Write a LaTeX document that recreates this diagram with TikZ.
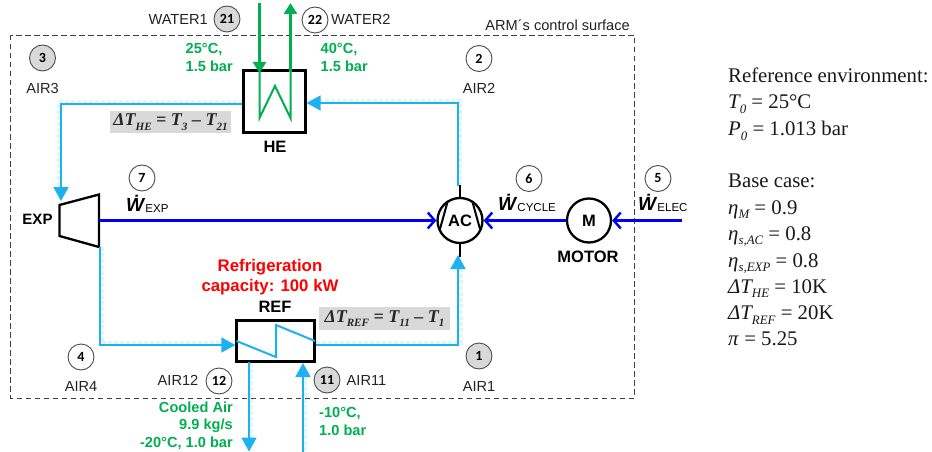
\documentclass[tikz,border=0pt]{standalone}
\usepackage{fontspec}
\setmainfont{Liberation Sans}
\newfontfamily\tms{Liberation Serif}
\newfontfamily\crl{Carlito}
\usetikzlibrary{arrows.meta}
\definecolor{airc}{HTML}{1DB1F0}
\definecolor{halo}{HTML}{E0F4FD}
\definecolor{grn}{HTML}{00B050}
\definecolor{wblue}{HTML}{0000F0}
\definecolor{gbox}{HTML}{D9D9D9}
\definecolor{txt}{HTML}{222222}
\newcommand{\fs}[1]{\fontsize{#1}{#1}\selectfont}
\newcommand{\lowsub}[1]{\raisebox{-0.24em}{\fontsize{0.62em}{0.62em}\selectfont #1}}
\newcommand{\wdot}[1]{\textbf{\textit{\fs{19}\.W}}\raisebox{-0.12em}{\fs{11.5}#1}}
\tikzset{
 x=1pt,y=-1pt,
 num/.style={circle,draw=black!70,line width=0.9pt,minimum size=26pt,inner sep=0pt,font=\crl\bfseries\fs{14},text=black,fill=white},
 numg/.style={num,fill=gbox},
 lab/.style={inner sep=0pt,font=\fs{14.6},text=txt},
 unit/.style={draw=black,line width=2.3pt,fill=white,inner sep=0pt},
 compname/.style={inner sep=0pt,font=\bfseries\fs{16.5},text=black},
 gtext/.style={inner sep=0pt,font=\bfseries\fontsize{14.6}{17.7}\selectfont,text=grn},
 eqbox/.style={fill=gbox,inner sep=0pt,font=\tms\bfseries\itshape\fs{18},text=black!85},
 air/.style={draw=airc,line width=1.8pt},
 airhalo/.style={draw=halo,line width=4pt,dotted,line cap=butt},
 airtip/.style={-{Triangle[length=14pt,width=15pt]}},
 water/.style={draw=grn,line width=2.5pt},
 watertip/.style={-{Triangle[length=11pt,width=13pt]}},
 work/.style={draw=wblue,line width=3pt,-{Straight Barb[length=7pt,width=16pt,line width=2.4pt]}},
 side/.style={inner sep=0pt,anchor=base west,font=\tms\fs{20.8},text=black!90},
}
\begin{document}
\begin{tikzpicture}
\useasboundingbox (0,0) rectangle (932,452);
% control surface
\coordinate (cs1) at (10.5,35); \coordinate (cs2) at (634,398);
\draw[black!75,line width=0.9pt,dash pattern=on 5.5pt off 3.5pt] (cs1) rectangle (cs2);
\node[lab,anchor=east] (arm) at (630,25.5) {ARM´s control surface};
% named free points
\coordinate (b2) at (458,103);
\coordinate (b3) at (61,104);
\coordinate (b4) at (100,345);
\coordinate (b1) at (458,345);
\coordinate (w1s) at (259.5,3);
\coordinate (w2e) at (290.5,3);
\coordinate (a12e) at (249,451.5);
\coordinate (a11s) at (303,452);
\coordinate (e5s) at (682,220.5);
% halos
\draw[airhalo] (460,186) -- (460,101) -- (308,101);
\draw[airhalo] (243,102) -- (59,102) -- (59,192);
\draw[airhalo] (102,247) -- (102,343) -- (226,343);
\draw[airhalo] (316,343) -- (461,343) -- (461,268);
\draw[airhalo] (251,363) -- (251,440);
\draw[airhalo] (305,375) -- (305,452);
% components
\node[unit,minimum width=62pt,minimum height=62pt] (HE) at (274.5,101.5) {};
\node[unit,minimum width=78pt,minimum height=41pt] (REF) at (275.5,341) {};
\node[unit,circle,minimum size=45pt] (AC) at (460,220.5) {};
\node[unit,circle,minimum size=44pt] (M) at (589,220.5) {};
\draw[black,line width=2.3pt] (59.5,205) coordinate (e1) -- (99,194.5) coordinate (e2) -- (99,247) coordinate (e3) -- (59.5,236) coordinate (e4) -- cycle;
\coordinate (EXPtop) at (61,201);
\coordinate (EXPout) at (99,220.5);
\coordinate (EXPbot) at (100,247);
% AC details
\draw[black,line width=2pt] (440,229) -- (447.5,202);
\draw[black,line width=2pt] (472.5,202) -- (480,229);
\draw[black,line width=2.3pt] (AC.north) -- ++(0,-12) coordinate (ACn);
\draw[black,line width=2.3pt] (AC.south) -- ++(0,13) coordinate (ACs);
\node[inner sep=0pt,font=\bfseries\fs{16.5}] (ACt) at (460,220.5) {AC};
\node[inner sep=0pt,font=\bfseries\fs{16.5}] (Mt) at (M) {M};
% air lines
\draw[air,airtip] (458,186) -- (b2) -- (HE.east |- b2);
\draw[air,airtip] (HE.west |- b3) -- (b3) -- (EXPtop);
\draw[air,airtip] (EXPbot) -- (b4) -- (REF.west |- b4);
\draw[air,airtip] (REF.east |- b1) -- (b1) -- (458,255);
\draw[air,airtip] (249,362) -- (a12e);
\draw[air,airtip] (a11s) -- (303,363);
% zigzag REF
\draw[air,line width=2pt] (236.5,341) -- (276,357) -- (276,325) -- (315,341);
% water
\draw[water,watertip] (w1s) -- (259.5,73);
\draw[water,line width=2pt,line join=miter] (259.5,70) -- (259.5,118) -- (275,86) -- (290.5,118) -- (290.5,70);
\draw[water,watertip] (290.5,72) -- (w2e);
% work
\draw[work] (EXPout) -- (AC.west);
\draw[work] (M.west) -- (AC.east);
\draw[work] (e5s) -- (M.east);
% equation boxes
\node[eqbox,minimum width=121pt,minimum height=22.5pt] (eqHE) at (170.5,122) {ΔT\lowsub{HE} = T\lowsub{3} – T\lowsub{21}};
\node[eqbox,minimum width=131pt,minimum height=23pt] (eqREF) at (384.5,318.5) {ΔT\lowsub{REF} = T\lowsub{11} – T\lowsub{1}};
% numbered circles
\node[numg] (n21) at (227,19) {21};
\node[num] (n22) at (315,20) {22};
\node[numg] (n3) at (42.5,58) {3};
\node[num] (n2) at (479,58.5) {2};
\node[num] (n7) at (142,178) {7};
\node[num] (n6) at (529,178.5) {6};
\node[num] (n5) at (658,178.5) {5};
\node[num] (n4) at (81,357) {4};
\node[num] (n12) at (219,381) {12};
\node[numg] (n1) at (479,356) {1};
\node[numg] (n11) at (327,380) {11};
% labels
\node[lab,anchor=east] (lw1) at (208,19) {WATER1};
\node[lab,anchor=west] (lw2) at (331,19) {WATER2};
\node[lab] (l3) at (42.5,88) {AIR3};
\node[lab] (l2) at (479,88) {AIR2};
\node[lab] (l4) at (81,386) {AIR4};
\node[lab] (l1) at (479,386) {AIR1};
\node[lab,anchor=east] (l12) at (198.5,380) {AIR12};
\node[lab,anchor=west] (l11) at (346.5,380) {AIR11};
% names
\node[compname] (tHE) at (275,147) {HE};
\node[compname] (tREF) at (275,307) {REF};
\node[compname,font=\bfseries\fs{15}] (tEXP) at (37.5,219) {EXP};
\node[compname] (tM) at (588,257) {MOTOR};
% work labels
\node[inner sep=0pt,anchor=base west] (wexp) at (126,211) {\wdot{EXP}};
\node[inner sep=0pt,anchor=base west] (wcyc) at (498,210) {\wdot{CYCLE}};
\node[inner sep=0pt,anchor=base west] (wele) at (638,210) {\wdot{ELEC}};
% coloured notes
\node[gtext,align=left,anchor=north west] (g25) at (185.5,43.5) {25°C,\\1.5 bar};
\node[gtext,align=left,anchor=north west] (g40) at (320.5,43.5) {40°C,\\1.5 bar};
\node[gtext,align=right,anchor=north east] (gcool) at (233,401.5) {Cooled Air\\9.9 kg/s\\-20°C, 1.0 bar};
\node[gtext,align=left,anchor=north west] (g10) at (319,407) {-10°C,\\1.0 bar};
\node[inner sep=0pt,align=center,font=\bfseries\fontsize{16.8}{20.5}\selectfont,text=red] (refcap) at (270,277) {Refrigeration\\capacity: 100 kW};
% side text
\node[side] (s1) at (728,82) {Reference environment:};
\node[side] (s2) at (728,109) {\textit{T\lowsub{0}} = 25°C};
\node[side] (s3) at (728,135.5) {\textit{P\lowsub{0}} = 1.013 bar};
\node[side] (s4) at (728,187.5) {Base case:};
\node[side] (s5) at (728,214) {\textit{η\lowsub{M}} = 0.9};
\node[side] (s6) at (728,240) {\textit{η\lowsub{s,AC}} = 0.8};
\node[side] (s7) at (728,267) {\textit{η\lowsub{s,EXP}} = 0.8};
\node[side] (s8) at (728,293) {\textit{ΔT\lowsub{HE}} = 10K};
\node[side] (s9) at (728,319.5) {\textit{ΔT\lowsub{REF}} = 20K};
\node[side] (s10) at (728,345) {\textit{π} = 5.25};
\end{tikzpicture}
\end{document}
